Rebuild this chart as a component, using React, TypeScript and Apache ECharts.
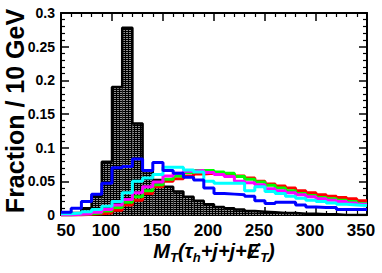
import React, { useEffect, useRef } from "react";
import * as echarts from "echarts";

// bin lower edges (GeV), 10 GeV bins from 50 to 350
const binEdges = [50, 60, 70, 80, 90, 100, 110, 120, 130, 140, 150, 160, 170, 180, 190, 200, 210, 220, 230, 240, 250, 260, 270, 280, 290, 300, 310, 320, 330, 340];
const xMax = 350;

const blackFilled = [0.001, 0.003, 0.010, 0.028, 0.079, 0.190, 0.278, 0.136, 0.065, 0.052, 0.042, 0.035, 0.027, 0.021, 0.016, 0.012, 0.010, 0.008, 0.006, 0.005, 0.004, 0.003, 0.003, 0.002, 0.002, 0.001, 0.001, 0.0, 0.0, 0.0];
const redVals = [0.0, 0.0, 0.001, 0.002, 0.003, 0.007, 0.015, 0.022, 0.032, 0.042, 0.050, 0.054, 0.058, 0.061, 0.062, 0.061, 0.060, 0.058, 0.055, 0.050, 0.046, 0.043, 0.040, 0.036, 0.033, 0.030, 0.028, 0.026, 0.024, 0.021];
const greenVals = [0.0, 0.001, 0.002, 0.003, 0.006, 0.011, 0.019, 0.027, 0.036, 0.045, 0.053, 0.058, 0.063, 0.066, 0.066, 0.064, 0.062, 0.057, 0.053, 0.049, 0.044, 0.040, 0.036, 0.032, 0.029, 0.026, 0.024, 0.022, 0.020, 0.017];
const magentaVals = [0.0, 0.001, 0.002, 0.004, 0.008, 0.015, 0.023, 0.033, 0.042, 0.049, 0.058, 0.062, 0.065, 0.066, 0.063, 0.060, 0.057, 0.050, 0.048, 0.045, 0.039, 0.036, 0.033, 0.030, 0.027, 0.024, 0.022, 0.020, 0.018, 0.016];
const cyanVals = [0.002, 0.003, 0.005, 0.008, 0.013, 0.020, 0.033, 0.050, 0.055, 0.060, 0.071, 0.071, 0.067, 0.064, 0.050, 0.047, 0.047, 0.047, 0.036, 0.042, 0.035, 0.032, 0.028, 0.025, 0.022, 0.020, 0.018, 0.016, 0.015, 0.014];
const blueVals = [0.004, 0.010, 0.020, 0.031, 0.047, 0.070, 0.072, 0.083, 0.066, 0.078, 0.066, 0.062, 0.056, 0.052, 0.040, 0.032, 0.031, 0.030, 0.028, 0.021, 0.017, 0.019, 0.019, 0.015, 0.012, 0.011, 0.011, 0.008, 0.008, 0.008];

const yTickLabels = ["0", "0.05", "0.1", "0.15", "0.2", "0.25", "0.3"];
const xTickLabels = ["50", "100", "150", "200", "250", "300", "350"];

const stepData = (vals: number[]) => {
  const d: number[][] = binEdges.map((x, i) => [x, vals[i]]);
  d.push([xMax, vals[vals.length - 1]]);
  return d;
};

const stepSeries = (vals: number[], color: string, width: number, z: number) => ({
  type: "line",
  step: "end",
  data: stepData(vals),
  showSymbol: false,
  symbol: "none",
  lineStyle: { color, width },
  z,
  silent: true,
});

export default function App() {
  const ref = useRef<HTMLDivElement>(null);
  useEffect(() => {
    if (!ref.current) return;
    const chart = echarts.init(ref.current, null, { renderer: "svg" });
    const font = "Liberation Sans, Arial, Helvetica, sans-serif";
    const axisCommon = {
      axisLine: { show: true, onZero: false, lineStyle: { color: "#000", width: 2 } },
      splitLine: { show: false },
    };
    const ticks = {
      axisTick: { show: true, inside: true, length: 8, lineStyle: { color: "#000", width: 1.5 } },
      minorTick: { show: true, splitNumber: 5, length: 4, lineStyle: { color: "#000", width: 1.2 } },
    };
    chart.setOption({
      animation: false,
      backgroundColor: "#fff",
      grid: { left: 61, right: 15, top: 13, bottom: 58, containLabel: false },
      xAxis: [
        {
          type: "value",
          min: 50,
          max: 350,
          interval: 50,
          position: "bottom",
          ...axisCommon,
          ...ticks,
          axisLabel: {
            margin: 7,
            color: "#000",
            fontFamily: font,
            fontWeight: "bold",
            fontSize: 17,
            formatter: (v: number) => {
              const s = xTickLabels[Math.round((v - 50) / 50)] ?? String(v);
              return v === 50 ? "{a|" + s + "}" : "{b|" + s + "}";
            },
            rich: {
              a: { fontFamily: font, fontWeight: "bold", fontSize: 17, color: "#000", padding: [0, 0, 0, 10] },
              b: { fontFamily: font, fontWeight: "bold", fontSize: 17, color: "#000", padding: [0, 12, 0, 0] },
            },
          },
        },
        {
          type: "value",
          min: 50,
          max: 350,
          interval: 50,
          position: "top",
          ...axisCommon,
          ...ticks,
          axisLabel: { show: false },
        },
      ],
      yAxis: [
        {
          type: "value",
          min: 0,
          max: 0.3,
          interval: 0.05,
          position: "left",
          ...axisCommon,
          ...ticks,
          axisLabel: {
            margin: 6,
            color: "#000",
            fontFamily: font,
            fontWeight: "bold",
            fontSize: 14,
            formatter: (v: number) => yTickLabels[Math.round(v / 0.05)] ?? String(v),
          },
        },
        {
          type: "value",
          min: 0,
          max: 0.3,
          interval: 0.05,
          position: "right",
          ...axisCommon,
          ...ticks,
          axisLabel: { show: false },
        },
      ],
      series: [
        {
          type: "bar",
          data: binEdges.map((x, i) => [x + 5, blackFilled[i]]),
          barWidth: 10.2,
          barGap: "-100%",
          itemStyle: {
            color: "#000",
            decal: {
              symbol: "rect",
              symbolSize: 1,
              color: "rgba(150,150,150,0.95)",
              dashArrayX: [2, 1],
              dashArrayY: [1, 1],
              rotation: 0,
            },
          },
          z: 1,
          silent: true,
        },
        stepSeries(blackFilled, "#000", 2.5, 2),
        stepSeries(redVals, "#ff0000", 3, 3),
        stepSeries(greenVals, "#00ff00", 3, 4),
        stepSeries(magentaVals, "#ff00ff", 3, 5),
        stepSeries(cyanVals, "#00ffff", 3, 6),
        stepSeries(blueVals, "#0000ff", 3, 7),
      ],
      graphic: [
        {
          type: "text",
          x: 15,
          y: 111,
          rotation: Math.PI / 2,
          style: {
            text: "Fraction / 10 GeV",
            fill: "#000",
            font: "bold 25px Liberation Sans, Arial, sans-serif",
            textAlign: "center",
            textVerticalAlign: "middle",
          },
        },
        {
          type: "text",
          x: 214,
          y: 251,
          style: {
            text: "{m|M}{s|T}{m|(τ}{s|h}{m|+j+j+\u0246}{s|T}{m|)}",
            textAlign: "center",
            textVerticalAlign: "middle",
            rich: {
              m: { fontFamily: font, fontWeight: "bold", fontStyle: "italic", fontSize: 20, lineHeight: 26, fill: "#000", color: "#000" },
              s: { fontFamily: font, fontWeight: "bold", fontStyle: "italic", fontSize: 13, lineHeight: 26, verticalAlign: "bottom", fill: "#000", color: "#000" },
            },
          },
        },
      ],
    });
    return () => chart.dispose();
  }, []);
  return <div ref={ref} style={{ position: "fixed", left: 0, top: 0, width: 382, height: 273 }} />;
}
